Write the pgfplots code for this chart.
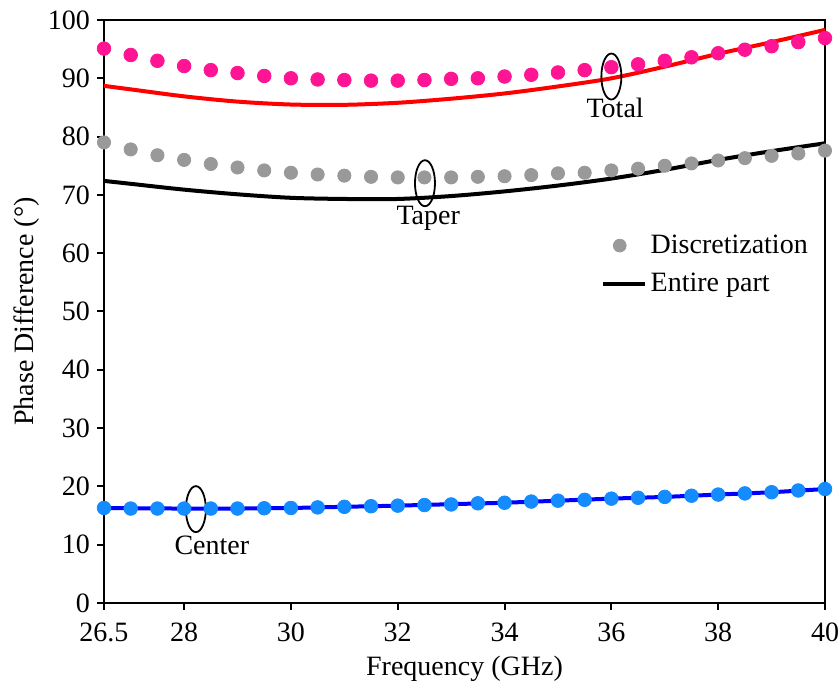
\documentclass[border=0pt]{standalone}
\usepackage{fontspec}
\setmainfont{Liberation Serif}
\usepackage{pgfplots}
\pgfplotsset{compat=1.18}
\usepackage{pgfplotstable}

\definecolor{totaldot}{RGB}{255,20,147}
\definecolor{taperdot}{RGB}{153,153,153}
\definecolor{centerdot}{RGB}{20,140,255}

% discretized results, 0.5 GHz steps
\pgfplotstableread{
f     total  taper  center
26.5  95.1   79.0   16.3
27.0  94.0   77.8   16.2
27.5  93.0   76.8   16.2
28.0  92.1   76.0   16.2
28.5  91.4   75.3   16.2
29.0  90.9   74.7   16.2
29.5  90.4   74.2   16.25
30.0  90.0   73.8   16.3
30.5  89.8   73.5   16.4
31.0  89.7   73.3   16.5
31.5  89.6   73.1   16.6
32.0  89.6   73.0   16.7
32.5  89.7   73.0   16.8
33.0  89.9   73.0   16.9
33.5  90.0   73.1   17.1
34.0  90.3   73.2   17.2
34.5  90.6   73.4   17.4
35.0  91.0   73.7   17.55
35.5  91.4   73.8   17.7
36.0  91.9   74.2   17.9
36.5  92.4   74.5   18.05
37.0  93.0   75.0   18.2
37.5  93.6   75.4   18.4
38.0  94.3   75.9   18.6
38.5  94.9   76.3   18.8
39.0  95.5   76.7   19.0
39.5  96.2   77.1   19.3
40.0  96.9   77.6   19.55
}\discrete

% entire-part results
\pgfplotstableread{
f     total  taper  center
26.5  88.7   72.4   16.3
27.0  88.1   71.9   16.25
28.0  86.9   70.9   16.2
29.0  86.0   70.1   16.2
30.0  85.5   69.5   16.3
31.0  85.45  69.3   16.5
32.0  85.8   69.3   16.7
33.0  86.5   69.8   16.95
34.0  87.4   70.6   17.2
35.0  88.6   71.6   17.55
36.0  90.0   72.8   17.9
37.0  92.0   74.3   18.2
38.0  94.2   76.0   18.6
39.0  96.2   77.5   19.0
40.0  98.3   78.85  19.55
}\entire

\begin{document}
\begin{tikzpicture}
\begin{axis}[
  scale only axis,
  width=360.5pt, height=291.5pt,
  xmin=26.5, xmax=40, ymin=0, ymax=100,
  xtick={26.5,28,30,32,34,36,38,40},
  ytick={0,10,...,100},
  xtick pos=bottom, ytick pos=left,
  tick align=outside,
  major tick length=3.5pt,
  minor tick num=0,
  axis line style={line width=1pt},
  every tick/.style={line width=1pt, black},
  /pgf/number format/assume math mode=true,
  tick label style={font=\fontsize{14}{16}\selectfont},
  label style={font=\fontsize{14}{16}\selectfont},
  xticklabel style={yshift=-3pt},
  ylabel style={yshift=-2.5pt},
  xlabel={Frequency (GHz)},
  ylabel={Phase Difference (°)},
  legend style={at={(axis cs:35.68,58.0)}, anchor=west, draw=none, fill=none,
    font=\fontsize{14}{16}\selectfont, row sep=4.5pt,
    /tikz/every even column/.append style={column sep=1pt}},
  legend cell align=left,
  clip=false,
]
% discretized points
\addplot[only marks, mark=*, mark size=3.4pt, color=totaldot, forget plot] table[x=f,y=total] {\discrete};
\addplot[only marks, mark=*, mark size=3.3pt, color=taperdot, forget plot] table[x=f,y=taper] {\discrete};
\addplot[only marks, mark=*, mark size=3.4pt, color=centerdot, forget plot] table[x=f,y=center] {\discrete};
% entire-part curves
\addplot[smooth, no marks, line width=2pt, red, forget plot] table[x=f,y=total] {\entire};
\addplot[smooth, no marks, line width=2pt, black, forget plot] table[x=f,y=taper] {\entire};
\addplot[smooth, no marks, line width=2pt, blue, forget plot] table[x=f,y=center] {\entire};

\addlegendimage{only marks, mark=*, mark size=3.2pt, color=taperdot}
\addlegendentry{Discretization}
\addlegendimage{no marks, line width=2pt, black, legend image code/.code={\draw[line width=2pt] (0pt,0pt) -- (21pt,0pt);}}
\addlegendentry{Entire part}

% group markers
\draw[line width=0.9pt] (axis cs:36.0,90.3) ellipse [x radius=5pt, y radius=11.5pt];
\node[font=\fontsize{14}{16}\selectfont] at (axis cs:36.07,84.9) {Total};
\draw[line width=0.9pt] (axis cs:32.51,72.0) ellipse [x radius=5pt, y radius=11.5pt];
\node[font=\fontsize{14}{16}\selectfont] at (axis cs:32.57,65.9) {Taper};
\draw[line width=0.9pt] (axis cs:28.22,16.1) ellipse [x radius=5pt, y radius=11.5pt];
\node[font=\fontsize{14}{16}\selectfont] at (axis cs:28.52,9.8) {Center};
\end{axis}
\pgfresetboundingbox
\path (current axis.south west) ++(-52pt,-43pt) rectangle ++(420pt,344.5pt);
\end{tikzpicture}
\end{document}
